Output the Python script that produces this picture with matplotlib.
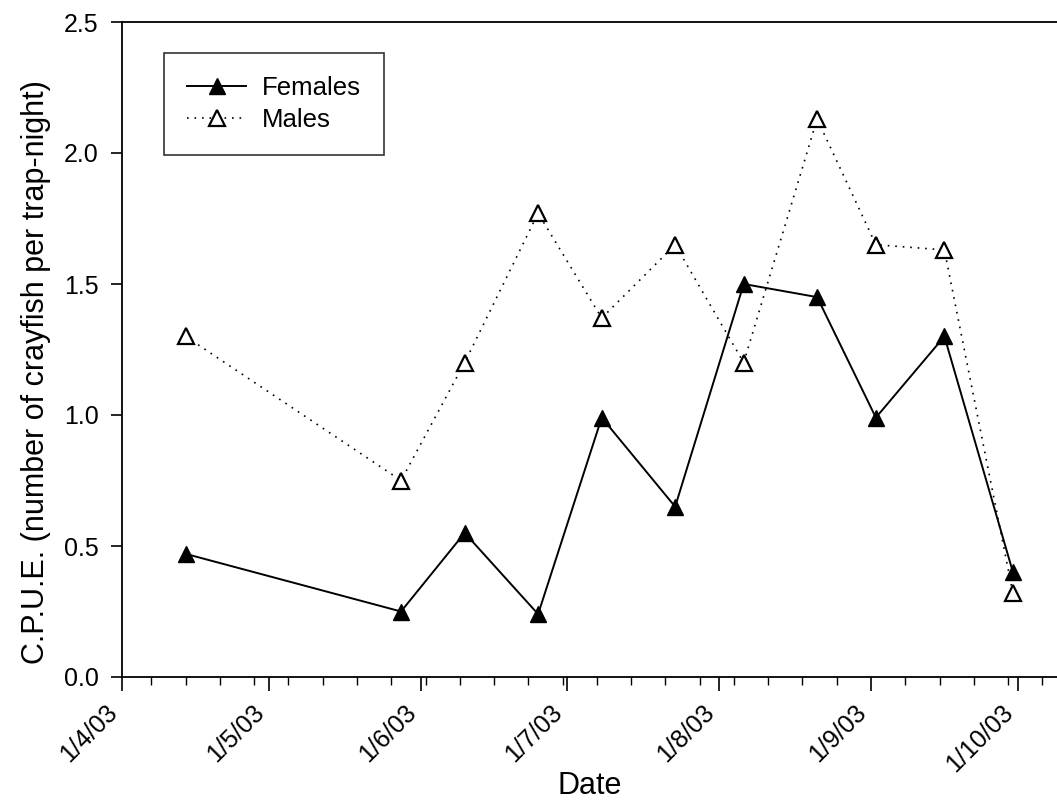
import matplotlib
matplotlib.use("Agg")
import matplotlib.pyplot as plt
import matplotlib.dates as mdates
import matplotlib.ticker as mticker
import datetime as dt

plt.rcParams['font.family'] = ['Liberation Sans', 'DejaVu Sans']

dates = ["2003-04-14", "2003-05-28", "2003-06-10", "2003-06-25", "2003-07-08",
         "2003-07-23", "2003-08-06", "2003-08-21", "2003-09-02", "2003-09-16",
         "2003-09-30"]
females = [0.47, 0.25, 0.55, 0.24, 0.99, 0.65, 1.50, 1.45, 0.99, 1.30, 0.40]
males = [1.30, 0.75, 1.20, 1.77, 1.37, 1.65, 1.20, 2.13, 1.65, 1.63, 0.32]
y_ticks = [0.0, 0.5, 1.0, 1.5, 2.0, 2.5]

x = [dt.datetime.strptime(d, "%Y-%m-%d") for d in dates]

fig = plt.figure(figsize=(10.57, 8.01), dpi=100)
ax = fig.add_axes([122/1057, (801-677)/801, 1 - 122/1057, (677-22)/801])

ax.plot(x, females, '-', color='black', lw=1.4, marker='^', ms=12,
        mfc='black', mec='black', label='Females')
ax.plot(x, males, linestyle=(0, (1, 3.5)), color='black', lw=1.2, marker='^', ms=12,
        mfc='white', mec='black', mew=1.6, label='Males')

ax.set_xlim(dt.datetime(2003, 4, 1), dt.datetime(2003, 10, 9))
ax.set_ylim(0, 2.5)
ax.set_yticks(y_ticks)
ax.yaxis.set_major_formatter(mticker.FormatStrFormatter('%.1f'))

ax.xaxis.set_major_locator(mdates.MonthLocator(bymonthday=1))
ax.xaxis.set_minor_locator(mdates.WeekdayLocator(byweekday=mdates.MO))


def fmt(v, p):
    d = mdates.num2date(v)
    return "{}/{}/{:02d}".format(d.day, d.month, d.year % 100)


ax.xaxis.set_major_formatter(mticker.FuncFormatter(fmt))

ax.tick_params(axis='y', which='major', direction='out', length=8, width=1.2,
               labelsize=18, pad=9, colors='black')
ax.tick_params(axis='x', which='major', direction='out', length=10, width=1.2,
               labelsize=18, pad=7, colors='black')
ax.tick_params(axis='x', which='minor', direction='out', length=6, width=1.0)

for lab in ax.get_xticklabels():
    lab.set_rotation(45)
    lab.set_ha('right')

ax.spines['right'].set_visible(False)
for s in ['left', 'bottom', 'top']:
    ax.spines[s].set_linewidth(1.3)

ax.set_xlabel('Date', fontsize=22, labelpad=-4)
ax.set_ylabel('C.P.U.E. (number of crayfish per trap-night)', fontsize=22)
ax.yaxis.set_label_coords(-0.076, 0.466)

leg = ax.legend(loc='upper left', bbox_to_anchor=(0.045, 0.953), fontsize=18.5,
                frameon=True, fancybox=False, edgecolor='black', handlelength=2.3,
                handletextpad=0.6, borderpad=0.9, labelspacing=0.3,
                borderaxespad=0)
leg.get_frame().set_linewidth(1.2)

fig.savefig('out.png', dpi=100)
